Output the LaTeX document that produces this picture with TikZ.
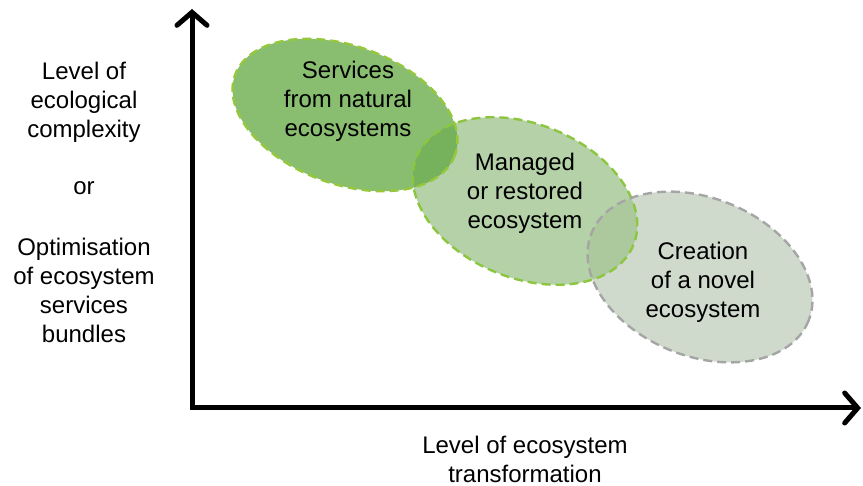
\documentclass[tikz,border=0pt]{standalone}
\usepackage{fontspec}
\setmainfont{Liberation Sans}
\usetikzlibrary{arrows.meta}
\definecolor{fillA}{RGB}{137,190,113}
\definecolor{fillB}{RGB}{181,209,168}
\definecolor{fillC}{RGB}{208,218,204}
\definecolor{fillAB}{RGB}{118,178,92}
\definecolor{fillBC}{RGB}{172,201,158}
\definecolor{edgeA}{RGB}{150,200,60}
\definecolor{edgeB}{RGB}{140,198,63}
\definecolor{edgeC}{RGB}{165,165,165}
\begin{document}
\begin{tikzpicture}[x=1pt,y=-1pt,
  lbl/.style={font=\fontsize{24}{29}\selectfont, align=center, text=black, inner sep=0pt},
  edgestyle/.style={line width=2.4pt, dash pattern=on 9pt off 5pt},
  axis/.style={line width=5pt, {Straight Barb[length=13pt,width=30pt,line cap=round]}-{Straight Barb[length=13pt,width=30pt,line cap=round]}, line join=miter}
]
\useasboundingbox (0,0) rectangle (863,486);
\def\ellA{[shift={(345,115)}, rotate=-20] (0,0) ellipse [x radius=117, y radius=69]}
\def\ellB{[shift={(525,201)}, rotate=-22] (0,0) ellipse [x radius=117, y radius=77]}
\def\ellC{[shift={(700,277)}, rotate=-22] (0,0) ellipse [x radius=117, y radius=79]}
% fills
\fill[fillA] \ellA;
\fill[fillB] \ellB;
\fill[fillC] \ellC;
\begin{scope}
  \clip \ellA;
  \fill[fillAB] \ellB;
\end{scope}
\begin{scope}
  \clip \ellB;
  \fill[fillBC] \ellC;
\end{scope}
% borders
\draw[edgestyle, edgeA] \ellA;
\draw[edgestyle, edgeB] \ellB;
\draw[edgestyle, edgeC] \ellC;
% axes
\coordinate (ytop) at (192,9);
\coordinate (origin) at (192,408);
\coordinate (xend) at (861,408);
\draw[axis] (ytop) -- (origin) -- (xend);
% texts
\node[lbl] (natural) at (348,101) {Services\\from natural\\ecosystems};
\node[lbl] (managed) at (525,193) {Managed\\or restored\\ecosystem};
\node[lbl] (novel) at (703,282) {Creation\\of a novel\\ecosystem};
\node[lbl] (ylab1) at (84,102) {Level of\\ecological\\complexity};
\node[lbl] (ylabor) at (84,188) {or};
\node[lbl] (ylab2) at (84,290) {Optimisation\\of ecosystem\\services\\bundles};
\node[lbl] (xlab) at (525,459) {Level of ecosystem\\transformation};
\end{tikzpicture}
\end{document}
